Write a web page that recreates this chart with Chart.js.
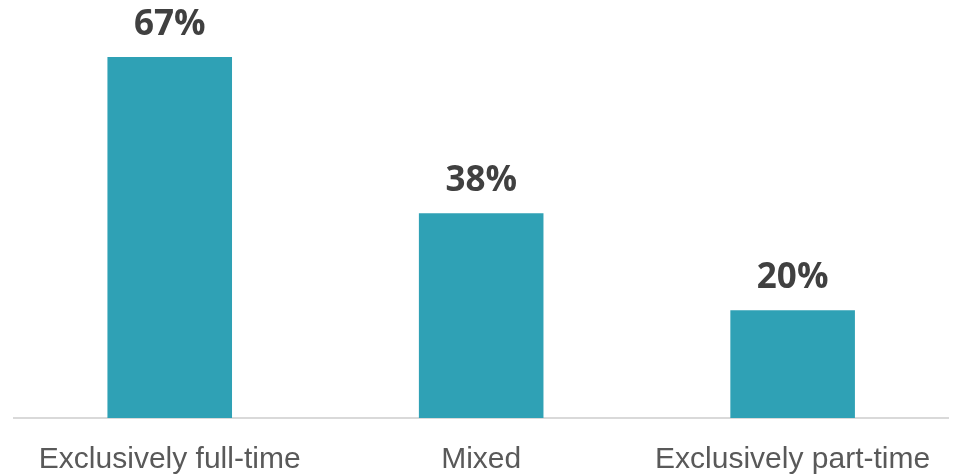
<!DOCTYPE html>
<html>
<head>
<meta charset="utf-8">
<script src="https://cdn.jsdelivr.net/npm/chart.js@4"></script>
<style>
  html, body { margin: 0; padding: 0; background: #fff; }
  #wrap { width: 955px; height: 474px; position: relative; }
</style>
</head>
<body>
<div id="wrap"><canvas id="chart"></canvas></div>
<script>
var categories = ['Exclusively full-time', 'Mixed', 'Exclusively part-time'];
var shares = [67, 38, 20];
var barColor = '#2fa1b5';

// draws the percent above each bar
var valueLabels = {
  id: 'valueLabels',
  afterDatasetsDraw: function(chart) {
    var ctx = chart.ctx;
    var meta = chart.getDatasetMeta(0);
    ctx.save();
    ctx.font = 'bold 35px "Open Sans", sans-serif';
    ctx.fillStyle = '#404040';
    ctx.textAlign = 'center';
    ctx.textBaseline = 'alphabetic';
    meta.data.forEach(function(bar, i) {
      ctx.fillText(shares[i] + '%', bar.x, bar.y - 22);
    });
    ctx.restore();
  }
};

new Chart(document.getElementById('chart'), {
  type: 'bar',
  data: {
    labels: categories,
    datasets: [{
      data: shares,
      backgroundColor: barColor,
      barPercentage: 0.4,
      categoryPercentage: 1.0
    }]
  },
  options: {
    responsive: true,
    maintainAspectRatio: false,
    animation: false,
    layout: { padding: { left: 14, right: 5, top: 0, bottom: -28 } },
    plugins: {
      legend: { display: false },
      tooltip: { enabled: false }
    },
    scales: {
      x: {
        grid: { display: false, drawTicks: false },
        border: { display: true, color: '#d9d9d9', width: 2 },
        ticks: {
          color: '#595959',
          padding: 24,
          maxRotation: 0,
          autoSkip: false,
          font: { family: '"Liberation Sans", Arial, sans-serif', size: 30 }
        }
      },
      y: {
        display: false,
        min: 0,
        max: 77.6
      }
    }
  },
  plugins: [valueLabels]
});
</script>
</body>
</html>
